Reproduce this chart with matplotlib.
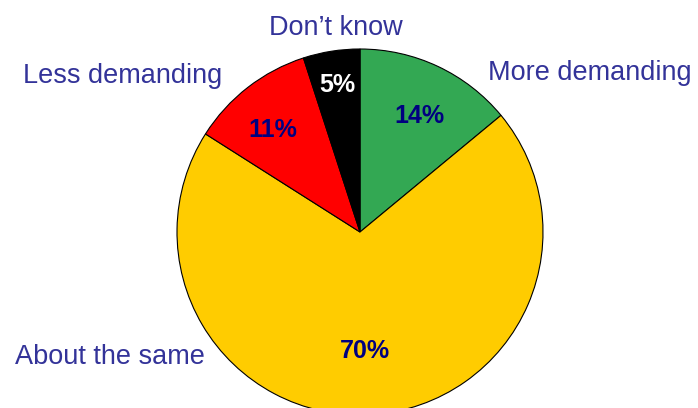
import matplotlib
matplotlib.use("Agg")
import matplotlib.pyplot as plt

categories = ["More demanding", "About the same", "Less demanding", "Don\u2019t know"]
values = [14, 70, 11, 5]
colors = ["#33A853", "#FFCC00", "#FF0000", "#000000"]
pct_colors = ["#000080", "#000080", "#000080", "#FFFFFF"]

W, H = 698, 408
fig = plt.figure(figsize=(W / 100, H / 100), dpi=100)
ax = fig.add_axes([0, 0, 1, 1])

cx, cy, r = 360, H - 232, 183
ax.pie(values, colors=colors, startangle=90, counterclock=False,
       center=(cx, cy), radius=r, frame=True,
       wedgeprops=dict(edgecolor="black", linewidth=0.8))
ax.set_xlim(0, W)
ax.set_ylim(0, H)
ax.set_aspect("equal")
ax.axis("off")

label_pos = [(590, 73), (110, 357), (123, 76), (336, 28)]
pct_pos = [(419, 116), (365, 351), (273, 130), (337, 85)]
for cat, v, (lx, ly), (px, py), pc in zip(categories, values, label_pos, pct_pos, pct_colors):
    ax.text(lx, H - ly, cat, ha="center", va="center", fontsize=19.5,
            color="#333399", family="Liberation Sans")
    ax.text(px, H - py, f"{v}%", ha="center", va="center", fontsize=18,
            color=pc, fontweight="bold", family="Liberation Sans")

fig.savefig("out.png", dpi=100)
